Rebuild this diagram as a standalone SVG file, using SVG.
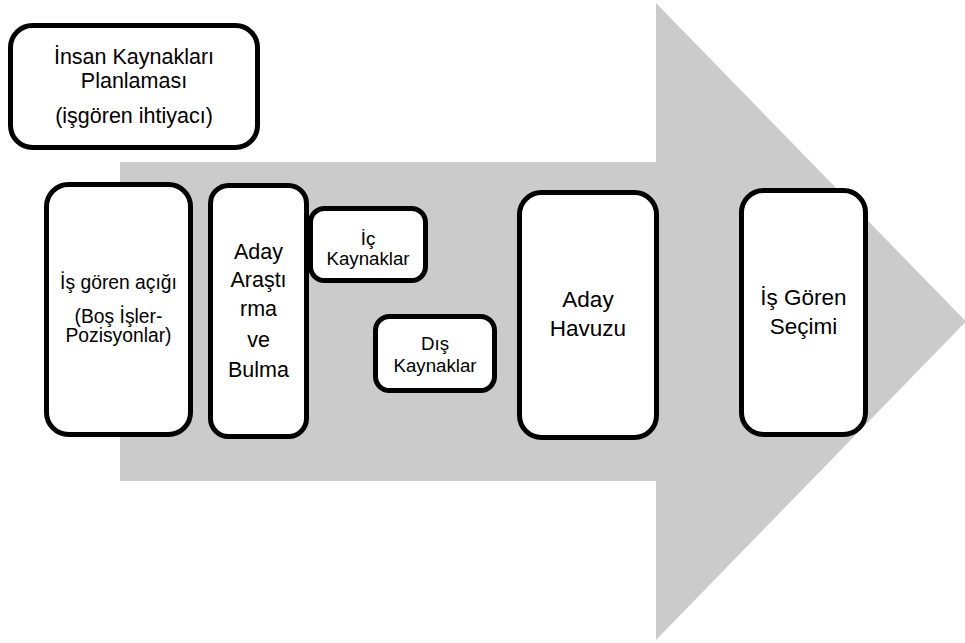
<svg xmlns="http://www.w3.org/2000/svg" width="965" height="643" viewBox="0 0 965 643">
  <style>
    .box { fill: #ffffff; stroke: #000000; stroke-width: 5; }
    text { font-family: "Liberation Sans", Arial, sans-serif; fill: #000000; text-anchor: middle; }
    .t-top { font-size: 21.5px; }
    .t-mid { font-size: 19.3px; }
    .t-sm { font-size: 18.7px; }
    .t-big { font-size: 21.5px; }
    .t-xl { font-size: 22.5px; }
  </style>
  <rect width="965" height="643" fill="#ffffff"/>

  <!-- big background block arrow -->
  <g id="connectors">
    <polygon points="120,162 656,162 656,3 966,321.5 656,640 656,481 120,481" fill="#cbcbcb"/>
  </g>

  <g id="planlama">
    <rect class="box" x="10.5" y="25.5" width="247" height="122" rx="22"/>
    <text class="t-top" x="134" y="64">İnsan Kaynakları</text>
    <text class="t-top" x="134" y="88">Planlaması</text>
    <text class="t-top" x="134" y="123">(işgören ihtiyacı)</text>
  </g>

  <g id="acik">
    <rect class="box" x="46.5" y="184.5" width="144" height="250" rx="22"/>
    <text class="t-mid" x="118.5" y="289">İş gören açığı</text>
    <text class="t-mid" x="118.5" y="323">(Boş İşler-</text>
    <text class="t-mid" x="118.5" y="342">Pozisyonlar)</text>
  </g>

  <g id="arastirma">
    <rect class="box" x="210.5" y="185.5" width="96" height="251" rx="18"/>
    <text class="t-big" x="258.5" y="259">Aday</text>
    <text class="t-big" x="258.5" y="287">Araştı</text>
    <text class="t-big" x="258.5" y="316">rma</text>
    <text class="t-big" x="258.5" y="347">ve</text>
    <text class="t-big" x="258.5" y="377">Bulma</text>
  </g>

  <g id="ic-kaynaklar">
    <rect class="box" x="310.5" y="208.5" width="115" height="72" rx="14"/>
    <text class="t-sm" x="368" y="245">İç</text>
    <text class="t-sm" x="368" y="265">Kaynaklar</text>
  </g>

  <g id="dis-kaynaklar">
    <rect class="box" x="375.5" y="316.5" width="119" height="74" rx="14"/>
    <text class="t-sm" x="435" y="350">Dış</text>
    <text class="t-sm" x="435" y="372">Kaynaklar</text>
  </g>

  <g id="havuz">
    <rect class="box" x="519.5" y="192.5" width="137" height="245" rx="22"/>
    <text class="t-xl" x="588" y="307">Aday</text>
    <text class="t-xl" x="588" y="336">Havuzu</text>
  </g>

  <g id="secim">
    <rect class="box" x="741.5" y="190.5" width="124" height="244" rx="22"/>
    <text class="t-xl" x="803.5" y="305">İş Gören</text>
    <text class="t-xl" x="803.5" y="334">Seçimi</text>
  </g>
</svg>
